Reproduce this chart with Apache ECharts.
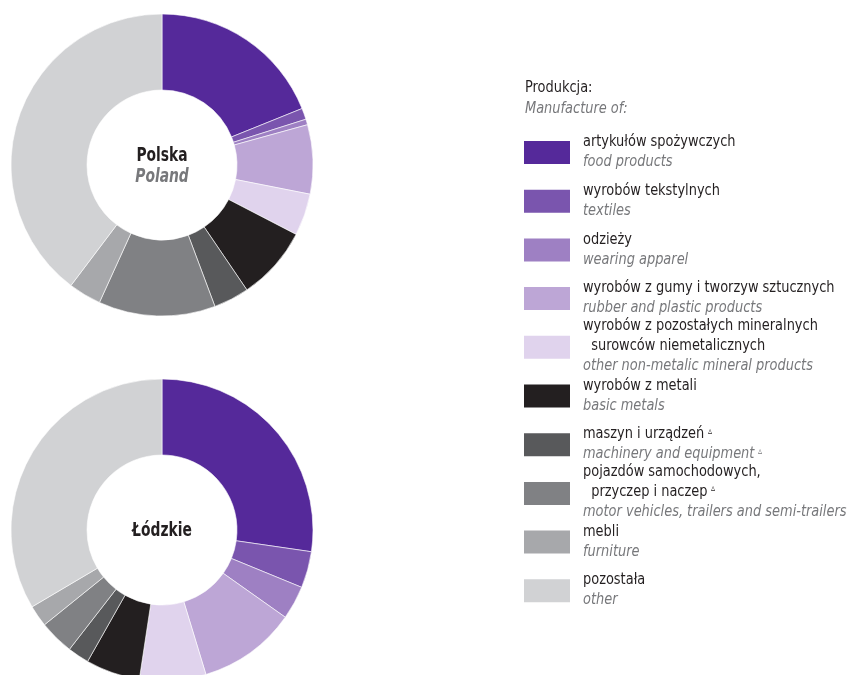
<!DOCTYPE html>
<html>
<head>
<meta charset="utf-8">
<script src="https://cdn.jsdelivr.net/npm/echarts@6/dist/echarts.min.js"></script>
<style>
html,body{margin:0;padding:0;background:#fff}
#chart{width:850px;height:675px}
</style>
</head>
<body>
<div id="chart"></div>
<script>
// Manufacturing branches (Polish label lines, English label)
const categoriesPl = [
  ['artykułów spożywczych'],
  ['wyrobów tekstylnych'],
  ['odzieży'],
  ['wyrobów z gumy i tworzyw sztucznych'],
  ['wyrobów z pozostałych mineralnych', '  surowców niemetalicznych'],
  ['wyrobów z metali'],
  ['maszyn i urządzeń'],
  ['pojazdów samochodowych,', '  przyczep i naczep'],
  ['mebli'],
  ['pozostała']
];
const categoriesEn = [
  'food products',
  'textiles',
  'wearing apparel',
  'rubber and plastic products',
  'other non-metalic mineral products',
  'basic metals',
  'machinery and equipment',
  'motor vehicles, trailers and semi-trailers',
  'furniture',
  'other'
];
// branches marked with the footnote triangle
const footnoteFlags = [false, false, false, false, false, false, true, true, false, false];

// Share of sold production, %
const polskaValues  = [18.9, 1.2, 0.6, 7.4, 4.5, 7.9, 3.8, 12.5, 3.5, 39.7];
const lodzkieValues = [27.3, 3.9, 3.6, 10.5, 7.1, 5.8, 2.3, 3.7, 2.3, 33.5];

const palette = ['#55299a', '#7a55ae', '#9e80c3', '#bda6d6', '#e0d3ed',
                 '#231f20', '#58595b', '#808184', '#a7a8ab', '#d1d2d4'];

const FONT = "'Liberation Sans Narrow', 'DejaVu Sans Condensed', 'Noto Sans', sans-serif";
const ink = '#231f20';
const grey = '#77787b';
const NARROW = 0.9;   // horizontal squeeze imitating a condensed face
const NARROW_BOLD = 0.77;

const chart = echarts.init(document.getElementById('chart'), null, {renderer: 'canvas'});

function pieData(values) {
  return values.map((v, i) => ({
    name: categoriesEn[i],
    value: v,
    itemStyle: {color: palette[i]}
  }));
}

function pieSeries(values, center) {
  return {
    type: 'pie',
    center: center,
    radius: [75, 151],
    startAngle: 90,
    clockwise: true,
    avoidLabelOverlap: false,
    label: {show: false},
    labelLine: {show: false},
    emphasis: {disabled: true},
    itemStyle: {borderColor: '#ffffff', borderWidth: 0.6},
    data: pieData(values)
  };
}

function textEl(x, y, style, sx) {
  return {type: 'text', x: x, y: y, scaleX: sx, style: style};
}

// Legend drawn as graphic elements
const graphics = [];
graphics.push(textEl(525, 88, {text: 'Produkcja:', font: '16px ' + FONT, fill: ink, verticalAlign: 'middle'}, NARROW));
graphics.push(textEl(525, 109, {text: 'Manufacture of:', font: 'italic 16px ' + FONT, fill: grey, verticalAlign: 'middle'}, NARROW));

const sup = {fontSize: 10, fontFamily: FONT, verticalAlign: 'top', padding: [0, 0, 0, 4]};
categoriesPl.forEach((lines, i) => {
  const top = 141 + i * 48.7;
  graphics.push({type: 'rect', shape: {x: 524, y: top, width: 46, height: 23}, style: {fill: palette[i]}});
  let y = lines.length > 1 ? top - 10 : top + 1;
  lines.forEach((ln, k) => {
    const marked = footnoteFlags[i] && k === lines.length - 1;
    graphics.push(textEl(583, y, {
      text: marked ? '{t|' + ln + '}{s|▵}' : ln,
      font: '16px ' + FONT, fill: ink, verticalAlign: 'middle',
      rich: {t: {fontSize: 16, fontFamily: FONT, color: ink}, s: Object.assign({color: ink}, sup)}
    }, NARROW));
    y += 20;
  });
  const en = categoriesEn[i];
  graphics.push(textEl(583, y, {
    text: footnoteFlags[i] ? '{t|' + en + '}{s|▵}' : en,
    font: 'italic 16px ' + FONT, fill: grey, verticalAlign: 'middle',
    rich: {t: {fontSize: 16, fontFamily: FONT, fontStyle: 'italic', color: grey}, s: Object.assign({color: grey}, sup)}
  }, NARROW));
});

// Pie centre captions
graphics.push(textEl(162, 156, {text: 'Polska', font: 'bold 20px ' + FONT, fill: ink, align: 'center', verticalAlign: 'middle'}, NARROW_BOLD));
graphics.push(textEl(162, 177, {text: 'Poland', font: 'italic bold 20px ' + FONT, fill: grey, align: 'center', verticalAlign: 'middle'}, NARROW_BOLD));
graphics.push(textEl(162, 531, {text: 'Łódzkie', font: 'bold 20px ' + FONT, fill: ink, align: 'center', verticalAlign: 'middle'}, NARROW_BOLD));

chart.setOption({
  animation: false,
  backgroundColor: '#ffffff',
  series: [
    pieSeries(polskaValues, [162, 165]),
    pieSeries(lodzkieValues, [162, 530])
  ],
  graphic: graphics
});
</script>
</body>
</html>
